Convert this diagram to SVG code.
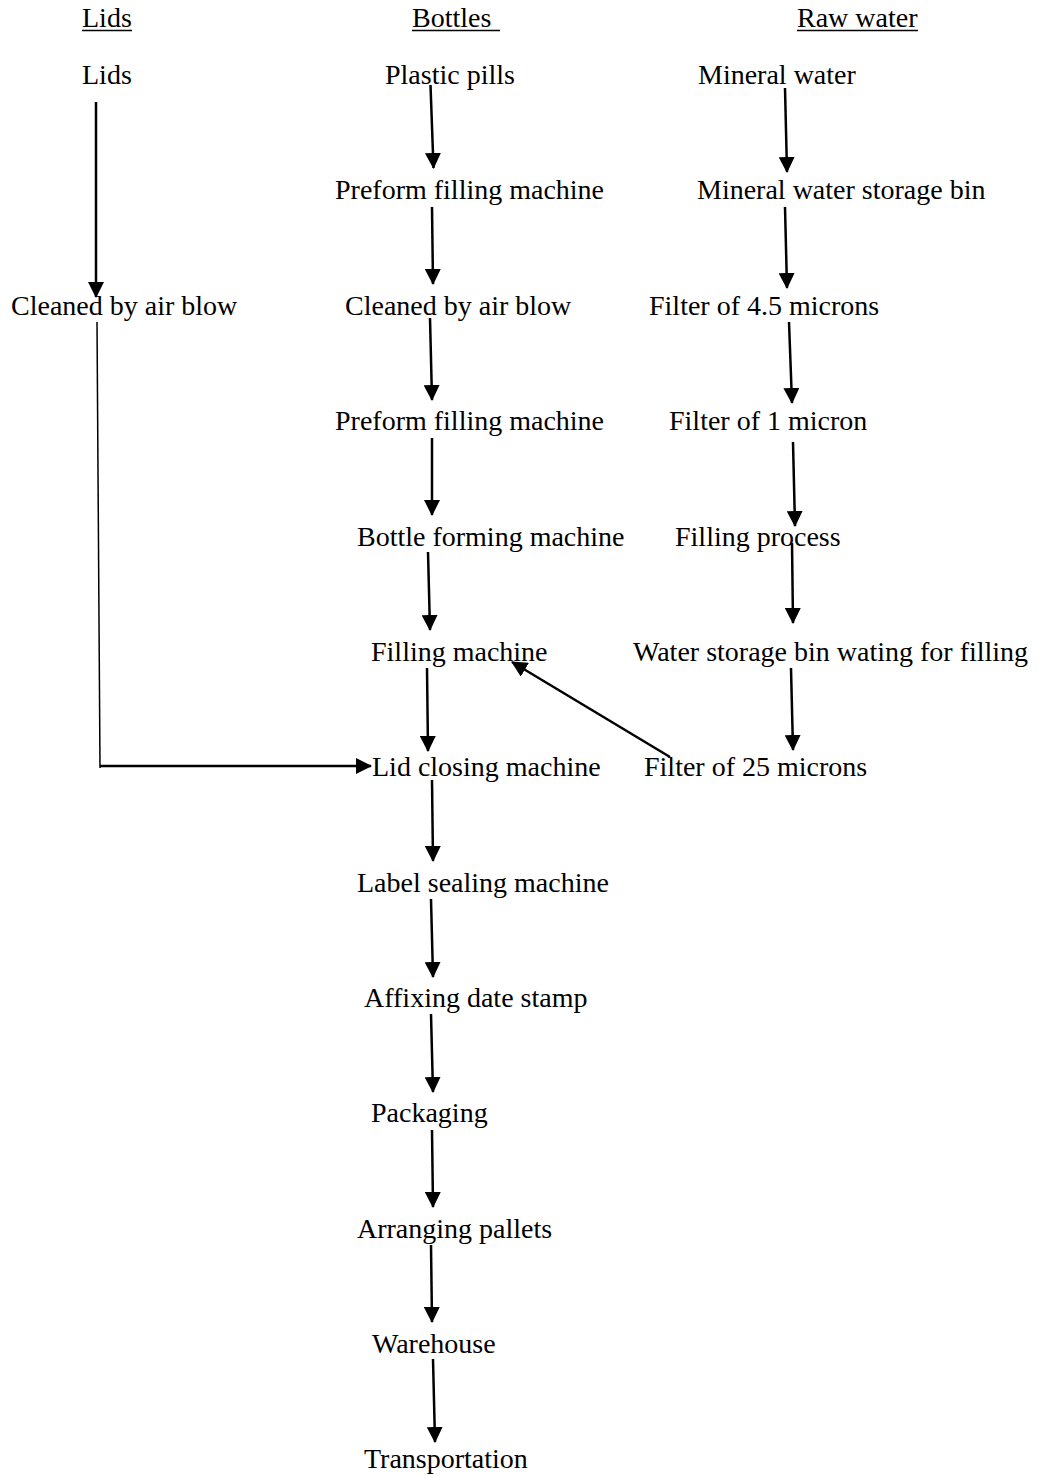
<svg xmlns="http://www.w3.org/2000/svg" width="1041" height="1475" viewBox="0 0 1041 1475">
<style>
text{font-family:"Liberation Serif","Times New Roman",serif;font-size:28px;fill:#000}
.c{stroke:#000;stroke-width:2.5;fill:none}
.u{stroke:#000;stroke-width:1.5}
</style>
<defs>
<marker id="ah" markerUnits="userSpaceOnUse" markerWidth="16" markerHeight="16" refX="15" refY="8" orient="auto" viewBox="0 0 16 16">
<path d="M0,0 L16,8 L0,16 z" fill="#000"/>
</marker>
</defs>
<rect width="1041" height="1475" fill="#fff"/>
<g id="headers">
<text x="82" y="27">Lids</text><line class="u" x1="82" y1="30.5" x2="132" y2="30.5"/>
<text x="412" y="27">Bottles</text><line class="u" x1="412" y1="30.5" x2="500" y2="30.5"/>
<text x="797" y="27">Raw water</text><line class="u" x1="797" y1="30.5" x2="918" y2="30.5"/>
</g>
<g id="n-lids"><text x="82" y="84">Lids</text></g>
<g id="n-lids-clean"><text x="11" y="315">Cleaned by air blow</text></g>
<g id="n-plastic"><text x="385" y="84">Plastic pills</text></g>
<g id="n-preform1"><text x="335" y="199">Preform filling machine</text></g>
<g id="n-clean2"><text x="345" y="315">Cleaned by air blow</text></g>
<g id="n-preform2"><text x="335" y="430">Preform filling machine</text></g>
<g id="n-bottleform"><text x="357" y="546">Bottle forming machine</text></g>
<g id="n-filling"><text x="371" y="661">Filling machine</text></g>
<g id="n-lidclose"><text x="372" y="776">Lid closing machine</text></g>
<g id="n-label"><text x="357" y="892">Label sealing machine</text></g>
<g id="n-date"><text x="364" y="1007">Affixing date stamp</text></g>
<g id="n-pack"><text x="371" y="1122">Packaging</text></g>
<g id="n-pallets"><text x="357" y="1238">Arranging pallets</text></g>
<g id="n-warehouse"><text x="372" y="1353">Warehouse</text></g>
<g id="n-transport"><text x="364" y="1468">Transportation</text></g>
<g id="n-mineral"><text x="698" y="84">Mineral water</text></g>
<g id="n-storage"><text x="697" y="199">Mineral water storage bin</text></g>
<g id="n-f45"><text x="649" y="315">Filter of 4.5 microns</text></g>
<g id="n-f1"><text x="669" y="430">Filter of 1 micron</text></g>
<g id="n-fillproc"><text x="675" y="546">Filling process</text></g>
<g id="n-wait"><text x="633" y="661">Water storage bin wating for filling</text></g>
<g id="n-f25"><text x="644" y="776">Filter of 25 microns</text></g>
<g id="connectors">
<line class="c" x1="96" y1="102" x2="96" y2="297" marker-end="url(#ah)"/>
<polyline class="c" points="97,322 100,768" style="stroke-width:1.5"/>
<line class="c" x1="100" y1="766" x2="371" y2="766" marker-end="url(#ah)"/>
<line class="c" x1="430.5" y1="85" x2="433.5" y2="168" marker-end="url(#ah)"/>
<line class="c" x1="432" y1="207" x2="433" y2="284" marker-end="url(#ah)"/>
<line class="c" x1="430" y1="318" x2="432" y2="400" marker-end="url(#ah)"/>
<line class="c" x1="432" y1="438" x2="432" y2="515" marker-end="url(#ah)"/>
<line class="c" x1="428" y1="552" x2="430" y2="630" marker-end="url(#ah)"/>
<line class="c" x1="427" y1="668" x2="428" y2="751" marker-end="url(#ah)"/>
<line class="c" x1="432" y1="780" x2="433" y2="861" marker-end="url(#ah)"/>
<line class="c" x1="431" y1="899" x2="433" y2="977" marker-end="url(#ah)"/>
<line class="c" x1="431" y1="1014" x2="433" y2="1092" marker-end="url(#ah)"/>
<line class="c" x1="432" y1="1130" x2="433" y2="1207" marker-end="url(#ah)"/>
<line class="c" x1="431" y1="1245" x2="432" y2="1322" marker-end="url(#ah)"/>
<line class="c" x1="433" y1="1359" x2="435" y2="1442" marker-end="url(#ah)"/>
<line class="c" x1="670" y1="757" x2="512" y2="662" marker-end="url(#ah)"/>
<line class="c" x1="785" y1="88" x2="787" y2="172" marker-end="url(#ah)"/>
<line class="c" x1="785" y1="207" x2="787" y2="288" marker-end="url(#ah)"/>
<line class="c" x1="789" y1="322" x2="792" y2="403" marker-end="url(#ah)"/>
<line class="c" x1="793" y1="442" x2="795" y2="526" marker-end="url(#ah)"/>
<line class="c" x1="792" y1="543" x2="793" y2="623" marker-end="url(#ah)"/>
<line class="c" x1="791" y1="668" x2="793" y2="750" marker-end="url(#ah)"/>
</g>
</svg>
